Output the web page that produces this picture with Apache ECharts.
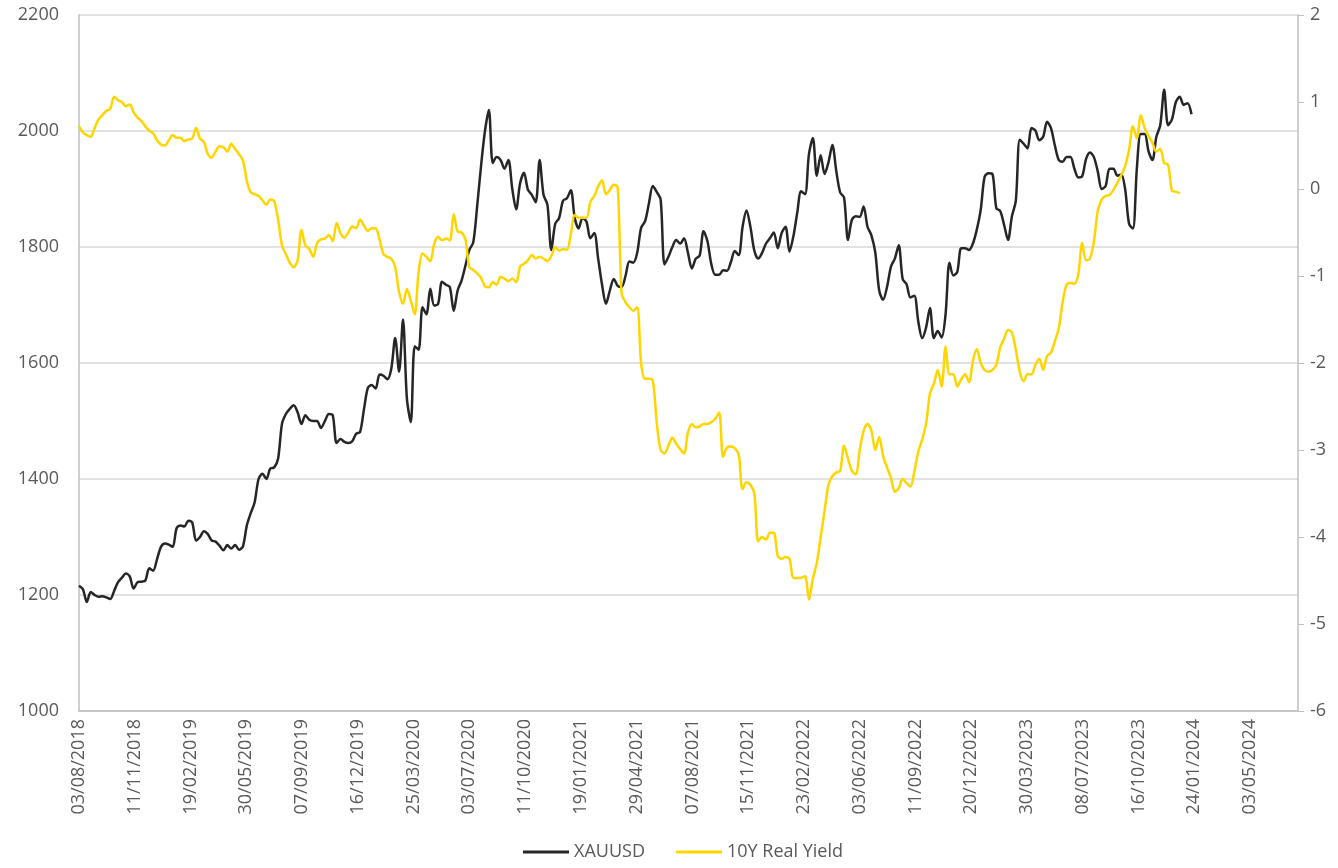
<!DOCTYPE html>
<html>
<head>
<meta charset="utf-8">
<script src="https://cdn.jsdelivr.net/npm/echarts@6/dist/echarts.min.js"></script>
<style>
  html, body { margin: 0; padding: 0; background: #fff; }
  #chart { width: 1338px; height: 868px; }
</style>
</head>
<body>
<div id="chart"></div>
<script>
// weekly closes, first week = 03/08/2018
var startDate = '2018-08-03';
var tickStepDays = 100;

var goldPrices = [
  1216, 1210, 1188, 1205, 1200, 1197, 1198, 1196, 1193, 1207,
  1222, 1230, 1237, 1232, 1211, 1222, 1223, 1225, 1246, 1242,
  1262, 1283, 1289, 1287, 1283, 1315, 1320, 1318, 1328, 1325,
  1294, 1300, 1310, 1305, 1294, 1292, 1285, 1277, 1286, 1280,
  1286, 1278, 1284, 1320, 1341, 1360, 1400, 1409, 1400, 1418,
  1420, 1435, 1495, 1512, 1521, 1527, 1515, 1495, 1510, 1502,
  1500, 1500, 1488, 1500, 1512, 1510, 1462, 1469, 1464, 1462,
  1465, 1478, 1481, 1520, 1557, 1562, 1556, 1580, 1578, 1572,
  1590, 1643, 1585, 1675, 1539, 1498, 1629, 1623, 1696, 1684,
  1728, 1699, 1702, 1740, 1735, 1731, 1690, 1725, 1742, 1768,
  1795, 1808, 1870, 1940, 2000, 2036, 1945, 1955, 1950, 1935,
  1950, 1900, 1865, 1910, 1928, 1899, 1890, 1877, 1950, 1890,
  1873, 1795, 1840, 1850, 1880, 1884, 1898, 1850, 1832, 1850,
  1844, 1815, 1824, 1780, 1735, 1702, 1725, 1745, 1733, 1731,
  1750, 1775, 1773, 1790, 1833, 1844, 1875, 1905, 1895, 1882,
  1770, 1783, 1800, 1812, 1806, 1815, 1790, 1763, 1780, 1785,
  1827, 1810, 1770, 1752, 1752, 1760, 1759, 1774, 1793, 1786,
  1835, 1863, 1835, 1794, 1780, 1790, 1806, 1815, 1825, 1798,
  1824, 1835, 1792, 1818, 1859, 1896, 1891, 1960, 1988, 1923,
  1958, 1926, 1946, 1976, 1931, 1894, 1885, 1812, 1847, 1853,
  1852, 1870, 1835, 1820, 1790, 1725, 1709, 1731, 1766, 1780,
  1803, 1745, 1736, 1713, 1716, 1672, 1643, 1661, 1695, 1643,
  1655, 1644, 1684, 1773, 1751, 1757, 1798, 1798, 1795, 1806,
  1830, 1864, 1921, 1927, 1926, 1867, 1862, 1838, 1812, 1853,
  1880, 1985, 1978, 1970, 2005, 2001, 1984, 1990, 2016, 2005,
  1975, 1950, 1947, 1955, 1955, 1935, 1920, 1922, 1952, 1963,
  1955, 1930, 1900, 1905, 1935, 1935, 1923, 1925, 1900, 1840,
  1832, 1935, 1995, 1995, 1965, 1950, 1990, 2010, 2071, 2010,
  2020, 2050, 2059, 2045, 2048, 2029
];

var realYield = [
  0.72, 0.65, 0.62, 0.60, 0.70, 0.80, 0.85, 0.90, 0.92, 1.06,
  1.02, 1.00, 0.95, 0.97, 0.88, 0.82, 0.78, 0.72, 0.67, 0.64,
  0.56, 0.51, 0.50, 0.56, 0.62, 0.59, 0.59, 0.55, 0.57, 0.58,
  0.70, 0.58, 0.54, 0.40, 0.36, 0.43, 0.49, 0.48, 0.43, 0.52,
  0.46, 0.40, 0.33, 0.09, -0.04, -0.06, -0.08, -0.13, -0.18, -0.12,
  -0.14, -0.35, -0.65, -0.75, -0.85, -0.90, -0.82, -0.47, -0.65, -0.69,
  -0.78, -0.62, -0.58, -0.57, -0.53, -0.60, -0.39, -0.51, -0.56, -0.50,
  -0.43, -0.45, -0.35, -0.42, -0.48, -0.45, -0.45, -0.58, -0.75, -0.78,
  -0.80, -0.90, -1.18, -1.32, -1.15, -1.28, -1.44, -0.95, -0.74, -0.78,
  -0.83, -0.63, -0.55, -0.59, -0.57, -0.59, -0.29, -0.49, -0.50, -0.58,
  -0.90, -0.93, -0.97, -1.02, -1.12, -1.13, -1.07, -1.10, -1.01, -1.03,
  -1.06, -1.03, -1.07, -0.89, -0.86, -0.82, -0.76, -0.80, -0.78, -0.80,
  -0.83, -0.77, -0.67, -0.71, -0.69, -0.70, -0.52, -0.30, -0.33, -0.33,
  -0.33, -0.15, -0.08, 0.03, 0.10, -0.06, -0.01, 0.05, 0.02, -1.20,
  -1.30, -1.36, -1.40, -1.36, -2.00, -2.18, -2.18, -2.20, -2.68, -3.00,
  -3.04, -2.95, -2.86, -2.93, -2.99, -3.04, -2.80, -2.70, -2.74, -2.73,
  -2.70, -2.70, -2.68, -2.64, -2.57, -3.08, -2.97, -2.96, -2.98, -3.05,
  -3.45, -3.37, -3.40, -3.50, -4.05, -4.00, -4.03, -3.95, -3.95, -4.22,
  -4.25, -4.23, -4.25, -4.47, -4.47, -4.47, -4.45, -4.72, -4.48, -4.30,
  -4.00, -3.70, -3.40, -3.30, -3.26, -3.24, -2.95, -3.10, -3.24, -3.28,
  -3.00, -2.78, -2.70, -2.78, -3.00, -2.85, -3.07, -3.20, -3.32, -3.48,
  -3.44, -3.33, -3.38, -3.42, -3.25, -3.02, -2.88, -2.70, -2.35, -2.24,
  -2.08, -2.27, -1.81, -2.13, -2.13, -2.27, -2.19, -2.13, -2.22, -1.98,
  -1.84, -2.00, -2.08, -2.10, -2.08, -2.02, -1.82, -1.72, -1.62, -1.65,
  -1.85, -2.10, -2.21, -2.13, -2.13, -2.02, -1.95, -2.08, -1.92, -1.88,
  -1.75, -1.60, -1.30, -1.10, -1.08, -1.09, -0.98, -0.62, -0.82, -0.80,
  -0.60, -0.25, -0.12, -0.08, -0.07, -0.01, 0.07, 0.16, 0.26, 0.45,
  0.72, 0.58, 0.85, 0.70, 0.61, 0.53, 0.43, 0.46, 0.30, 0.28,
  -0.02, -0.03, -0.05
];

var DAY = 86400000;
var start = Date.parse(startDate + 'T00:00:00Z');

function pad(n) { return (n < 10 ? '0' : '') + n; }
function dayLabel(v) {
  var d = new Date(start + v * DAY);
  return pad(d.getUTCDate()) + '/' + pad(d.getUTCMonth() + 1) + '/' + d.getUTCFullYear();
}
// x = days since start date, one point per week
function weekly(values) {
  return values.map(function (v, i) { return [i * 7, v]; });
}

var textColor = '#595959';
var font = 'Open Sans';

var chart = echarts.init(document.getElementById('chart'));
chart.setOption({
  animation: false,
  grid: { left: 79, right: 40, top: 15, bottom: 157 },
  legend: {
    bottom: 2,
    left: 518,
    itemWidth: 46,
    itemHeight: 3,
    itemGap: 31,
    icon: 'rect',
    textStyle: { color: textColor, fontSize: 18, fontFamily: font },
    data: ['XAUUSD', '10Y Real Yield']
  },
  xAxis: {
    type: 'value',
    min: 0,
    max: 2186,
    interval: tickStepDays,
    axisLine: { onZero: false, lineStyle: { color: '#bfbfbf', width: 1.5 } },
    axisTick: { show: false },
    splitLine: { show: false },
    axisLabel: {
      rotate: 90,
      margin: 8,
      showMaxLabel: false,
      color: textColor,
      fontSize: 18,
      fontFamily: font,
      formatter: dayLabel
    }
  },
  yAxis: [{
    type: 'value',
    min: 1000,
    max: 2200,
    interval: 200,
    axisLine: { show: true, lineStyle: { color: '#bfbfbf', width: 1.5 } },
    axisTick: { show: false },
    splitLine: { lineStyle: { color: '#d9d9d9', width: 1.5 } },
    axisLabel: {
      color: textColor, fontSize: 18, fontFamily: font, margin: 20,
      formatter: function (v) { return String(v); }
    }
  }, {
    type: 'value',
    min: -6,
    max: 2,
    interval: 1,
    axisLine: { show: true, lineStyle: { color: '#bfbfbf', width: 1.5 } },
    axisTick: { show: true, inside: false, length: 6, lineStyle: { color: '#bfbfbf' } },
    splitLine: { show: false },
    axisLabel: { color: textColor, fontSize: 18, fontFamily: font, margin: 12 }
  }],
  series: [{
    name: 'XAUUSD',
    type: 'line',
    yAxisIndex: 0,
    data: weekly(goldPrices),
    showSymbol: false,
    smooth: 0.3,
    lineStyle: { color: '#262626', width: 2.5 },
    itemStyle: { color: '#262626' }
  }, {
    name: '10Y Real Yield',
    type: 'line',
    yAxisIndex: 1,
    data: weekly(realYield),
    showSymbol: false,
    smooth: 0.3,
    lineStyle: { color: '#ffd500', width: 2.5 },
    itemStyle: { color: '#ffd500' }
  }]
});
</script>
</body>
</html>
